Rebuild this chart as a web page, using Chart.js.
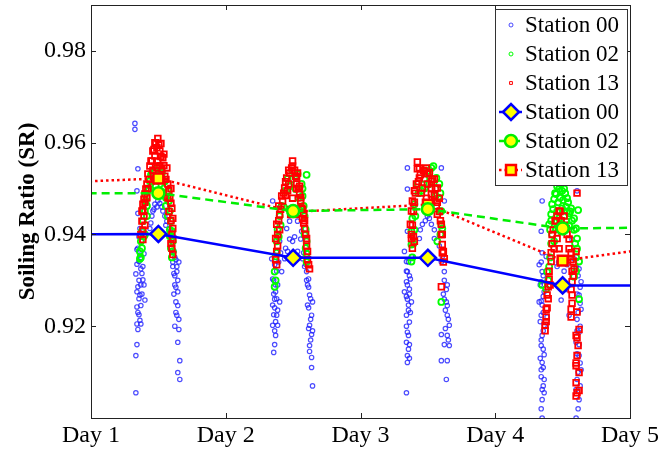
<!DOCTYPE html>
<html>
<head>
<meta charset="utf-8">
<script src="https://cdn.jsdelivr.net/npm/chart.js@4.4.1/dist/chart.umd.min.js"></script>
<style>
  html, body { margin: 0; padding: 0; background: #fff; }
</style>
</head>
<body>
<canvas id="myChart" width="665" height="450"></canvas>
<script>
// x axis: days, y axis: soiling ratio
var xTicks = [1, 2, 3, 4, 5];
var dayLabels = ['Day 1', 'Day 2', 'Day 3', 'Day 4', 'Day 5'];
var yTicks = [0.92, 0.94, 0.96, 0.98];

// daily means (edge values read where the lines leave the box)
var meanDays = [0.5, 1.5, 2.5, 3.5, 4.5, 5.5];
var st00Mean = [0.9400, 0.9401, 0.9349, 0.9349, 0.9289, 0.9289];
var st02Mean = [0.9490, 0.9490, 0.9451, 0.9455, 0.9413, 0.9416];
var st13Mean = [0.9510, 0.9522, 0.9449, 0.9465, 0.9343, 0.9383];

// measurements [day, SR]
var st00Points = [
  // day 1
  [1.326,0.9642],[1.326,0.9629],[1.348,0.9543],[1.341,0.9495],[1.348,0.9446],[1.363,0.9413],[1.356,0.9395],
  [1.378,0.9385],[1.341,0.9367],[1.393,0.9358],[1.370,0.9350],[1.356,0.9341],[1.385,0.9330],[1.370,0.9325],
  [1.333,0.9314],[1.385,0.9301],[1.393,0.9290],[1.348,0.9286],[1.363,0.9268],[1.400,0.9257],[1.341,0.9242],
  [1.363,0.9213],[1.348,0.9193],[1.341,0.9160],[1.333,0.9136],[1.333,0.9055],
  [1.348,0.9370],[1.363,0.9355],[1.341,0.9335],[1.378,0.9315],[1.356,0.9300],[1.370,0.9290],[1.341,0.9275],
  [1.378,0.9270],[1.356,0.9260],[1.370,0.9245],[1.356,0.9225],[1.348,0.9230],[1.370,0.9205],[1.341,0.9205],
  [1.437,0.9413],[1.452,0.9440],[1.459,0.9451],[1.474,0.9466],[1.496,0.9473],[1.511,0.9468],[1.533,0.9451],
  [1.548,0.9440],[1.563,0.9429],[1.467,0.9455],[1.526,0.9460],[1.489,0.9460],[1.444,0.9425],[1.555,0.9420],
  [1.585,0.9413],[1.615,0.9395],[1.600,0.9389],[1.615,0.9363],[1.630,0.9345],[1.652,0.9340],[1.607,0.9330],
  [1.637,0.9319],[1.622,0.9310],[1.622,0.9290],[1.644,0.9275],[1.630,0.9253],[1.637,0.9224],[1.652,0.9193],
  [1.644,0.9165],[1.659,0.9125],[1.644,0.9099],[1.659,0.9084],
  [1.600,0.9365],[1.622,0.9350],[1.607,0.9340],[1.637,0.9330],[1.615,0.9315],[1.644,0.9300],[1.630,0.9285],
  [1.615,0.9270],[1.644,0.9245],[1.630,0.9230],[1.652,0.9215],[1.622,0.9200],
  // day 2
  [2.348,0.9473],[2.341,0.9347],[2.363,0.9334],[2.348,0.9303],[2.385,0.9290],[2.363,0.9259],[2.348,0.9246],
  [2.378,0.9224],[2.348,0.9202],[2.385,0.9202],[2.370,0.9180],[2.363,0.9160],[2.356,0.9143],[2.400,0.9385],
  [2.378,0.9363],[2.415,0.9319],[2.370,0.9275],[2.400,0.9253],
  [2.356,0.9300],[2.370,0.9290],[2.356,0.9270],[2.378,0.9260],[2.363,0.9240],[2.385,0.9235],[2.356,0.9225],
  [2.370,0.9210],[2.363,0.9190],[2.393,0.9340],[2.407,0.9360],[2.378,0.9320],
  [2.437,0.9347],[2.459,0.9363],[2.496,0.9385],[2.533,0.9363],[2.474,0.9429],[2.533,0.9429],[2.452,0.9413],
  [2.563,0.9407],[2.556,0.9390],[2.474,0.9390],[2.511,0.9395],[2.444,0.9370],[2.578,0.9360],
  [2.570,0.9347],[2.600,0.9319],[2.607,0.9290],[2.622,0.9268],[2.607,0.9246],[2.637,0.9224],[2.622,0.9202],
  [2.637,0.9182],[2.622,0.9158],[2.637,0.9132],[2.637,0.9110],[2.644,0.9070],[2.585,0.9330],[2.615,0.9303],
  [2.644,0.9253],[2.600,0.9300],[2.615,0.9285],[2.630,0.9260],[2.615,0.9240],[2.630,0.9215],[2.615,0.9195],
  [2.644,0.9190],[2.630,0.9170],[2.622,0.9145],[2.593,0.9335],
  // day 3
  [3.348,0.9545],[3.600,0.9545],[3.348,0.9499],[3.622,0.9473],[3.348,0.9407],
  [3.326,0.9363],[3.341,0.9341],[3.348,0.9319],[3.341,0.9297],[3.363,0.9281],[3.348,0.9259],[3.356,0.9246],
  [3.341,0.9224],[3.363,0.9209],[3.348,0.9187],[3.363,0.9160],[3.348,0.9136],[3.348,0.9121],[3.341,0.9055],
  [3.378,0.9352],[3.370,0.9303],[3.378,0.9253],[3.326,0.9275],
  [3.356,0.9340],[3.341,0.9320],[3.363,0.9310],[3.348,0.9290],[3.363,0.9270],[3.341,0.9265],[3.356,0.9235],
  [3.370,0.9230],[3.341,0.9200],[3.356,0.9180],[3.341,0.9165],[3.356,0.9150],[3.363,0.9130],
  [3.459,0.9422],[3.526,0.9422],[3.437,0.9391],[3.548,0.9391],[3.496,0.9440],[3.444,0.9410],[3.481,0.9430],
  [3.511,0.9435],[3.548,0.9410],[3.585,0.9375],[3.600,0.9340],
  [3.622,0.9319],[3.644,0.9290],[3.622,0.9259],[3.644,0.9224],[3.659,0.9202],[3.644,0.9180],[3.659,0.9158],
  [3.600,0.9182],[3.600,0.9125],[3.637,0.9084],[3.644,0.9125],[3.607,0.9352],[3.637,0.9253],
  [3.622,0.9300],[3.637,0.9280],[3.615,0.9270],[3.644,0.9245],[3.630,0.9235],[3.652,0.9215],[3.630,0.9195],
  [3.652,0.9170],[3.622,0.9160],
  // day 4
  [4.348,0.9473],[4.570,0.9389],[4.607,0.9495],
  [4.341,0.9407],[4.326,0.9334],[4.348,0.9319],[4.341,0.9297],[4.363,0.9275],[4.348,0.9246],[4.341,0.9224],
  [4.363,0.9202],[4.348,0.9180],[4.341,0.9158],[4.363,0.9138],[4.348,0.9121],[4.341,0.9105],[4.363,0.9084],
  [4.348,0.9062],[4.363,0.9055],[4.348,0.9040],[4.348,0.9000],[4.378,0.9352],[4.326,0.9253],[4.385,0.9220],
  [4.348,0.9360],[4.341,0.9340],[4.356,0.9310],[4.334,0.9290],[4.356,0.9265],[4.341,0.9255],[4.356,0.9230],
  [4.334,0.9210],[4.356,0.9190],[4.341,0.9170],[4.356,0.9150],[4.334,0.9130],[4.356,0.9110],[4.341,0.9090],
  [4.356,0.9070],[4.341,0.9020],
  [4.496,0.9347],[4.459,0.9330],[4.533,0.9334],[4.489,0.9257],[4.548,0.9224],[4.470,0.9340],[4.511,0.9320],
  [4.526,0.9280],
  [4.585,0.9347],[4.622,0.9325],[4.637,0.9297],[4.622,0.9268],[4.637,0.9237],[4.607,0.9215],[4.622,0.9187],
  [4.600,0.9165],[4.622,0.9136],[4.637,0.9105],[4.607,0.9084],[4.600,0.9062],[4.622,0.9040],[4.600,0.9000],
  [4.600,0.9330],[4.615,0.9310],[4.630,0.9285],[4.607,0.9270],[4.630,0.9250],[4.615,0.9230],[4.630,0.9200],
  [4.607,0.9190],[4.622,0.9160],[4.607,0.9140],[4.630,0.9120],[4.615,0.9100],[4.630,0.9070],[4.615,0.9020]
];

var st02Points = [
  // day 1
  [1.496,0.9545],[1.467,0.9534],[1.526,0.9534],[1.437,0.9516],[1.548,0.9516],[1.422,0.9495],[1.570,0.9495],
  [1.407,0.9473],[1.578,0.9473],[1.400,0.9451],[1.585,0.9451],[1.385,0.9429],[1.593,0.9429],[1.378,0.9407],
  [1.600,0.9407],[1.370,0.9385],[1.607,0.9385],[1.363,0.9363],[1.607,0.9363],[1.363,0.9347],[1.452,0.9527],
  [1.511,0.9521],[1.481,0.9505],[1.415,0.9462],[1.555,0.9462],[1.393,0.9396],[1.585,0.9396],
  [1.430,0.9500],[1.445,0.9530],[1.540,0.9500],[1.556,0.9480],[1.415,0.9440],[1.570,0.9440],[1.400,0.9400],
  [1.585,0.9410],[1.378,0.9370],[1.593,0.9370],[1.370,0.9350],[1.600,0.9350],[1.474,0.9540],[1.519,0.9540],
  // day 2
  [2.496,0.9538],[2.533,0.9532],[2.459,0.9521],[2.563,0.9510],[2.437,0.9495],[2.570,0.9484],[2.415,0.9462],
  [2.578,0.9462],[2.400,0.9440],[2.585,0.9440],[2.385,0.9411],[2.593,0.9411],[2.378,0.9385],[2.600,0.9385],
  [2.370,0.9352],[2.600,0.9358],[2.363,0.9319],[2.363,0.9286],[2.474,0.9505],[2.519,0.9499],
  [2.407,0.9420],[2.393,0.9395],[2.378,0.9360],[2.370,0.9300],[2.585,0.9400],[2.593,0.9370],[2.600,0.9340],
  [2.430,0.9460],[2.556,0.9460],[2.452,0.9495],[2.541,0.9480],[2.489,0.9520],[2.600,0.9530],[2.570,0.9500],
  // day 3
  [3.541,0.9549],[3.511,0.9534],[3.563,0.9523],[3.593,0.9490],[3.474,0.9521],[3.422,0.9510],[3.400,0.9466],
  [3.385,0.9435],[3.378,0.9407],[3.378,0.9378],[3.378,0.9341],[3.600,0.9451],[3.607,0.9413],[3.600,0.9253],
  [3.570,0.9385],[3.496,0.9538],[3.452,0.9495],[3.556,0.9484],
  [3.400,0.9410],[3.393,0.9380],[3.385,0.9350],[3.407,0.9440],[3.430,0.9490],[3.578,0.9480],[3.593,0.9450],
  [3.600,0.9420],[3.593,0.9400],[3.474,0.9500],[3.511,0.9510],[3.526,0.9545],[3.585,0.9510],
  // day 4
  [4.452,0.9488],[4.496,0.9495],[4.533,0.9479],[4.422,0.9466],[4.563,0.9457],[4.415,0.9444],[4.585,0.9435],
  [4.400,0.9422],[4.600,0.9413],[4.422,0.9400],[4.607,0.9391],[4.437,0.9385],[4.607,0.9369],[4.622,0.9341],
  [4.622,0.9259],[4.348,0.9290],[4.378,0.9281],[4.496,0.9457],[4.474,0.9435],[4.526,0.9429],[4.452,0.9413],
  [4.615,0.9453],[4.474,0.9499],[4.519,0.9490],[4.437,0.9477],[4.548,0.9446],[4.385,0.9319],[4.585,0.9308],
  [4.459,0.9505],[4.489,0.9510],[4.511,0.9500],[4.444,0.9490],[4.541,0.9470],[4.467,0.9470],[4.504,0.9475],
  [4.430,0.9455],[4.556,0.9450],[4.415,0.9430],[4.570,0.9430],[4.407,0.9410],[4.585,0.9410],[4.415,0.9380],
  [4.593,0.9380],[4.407,0.9350],[4.600,0.9350],[4.400,0.9330],[4.600,0.9320],[4.393,0.9300],[4.459,0.9450],
  [4.533,0.9450],[4.481,0.9480],[4.526,0.9460],[4.474,0.9420],[4.548,0.9420]
];

var st13Points = [
  // day 1
  [1.496,0.9609],[1.474,0.9600],[1.459,0.9582],[1.452,0.9560],[1.533,0.9567],[1.563,0.9545],[1.422,0.9532],
  [1.415,0.9510],[1.570,0.9510],[1.400,0.9488],[1.585,0.9479],[1.385,0.9466],[1.600,0.9457],[1.378,0.9451],
  [1.607,0.9435],[1.607,0.9413],[1.378,0.9429],[1.385,0.9389],[1.607,0.9389],[1.607,0.9356],[1.489,0.9589],
  [1.511,0.9582],[1.496,0.9560],[1.489,0.9545],[1.526,0.9543],[1.437,0.9549],[1.548,0.9527],[1.407,0.9499],
  [1.578,0.9495],[1.393,0.9477],[1.593,0.9468],[1.474,0.9571],[1.519,0.9598],
  [1.400,0.9470],[1.393,0.9440],[1.385,0.9410],[1.400,0.9420],[1.415,0.9480],[1.430,0.9520],[1.445,0.9560],
  [1.467,0.9585],[1.481,0.9600],[1.504,0.9595],[1.519,0.9570],[1.541,0.9550],[1.556,0.9520],[1.570,0.9480],
  [1.578,0.9450],[1.593,0.9430],[1.600,0.9400],[1.593,0.9380],[1.600,0.9370],[1.422,0.9500],[1.385,0.9450],
  [1.370,0.9400],[1.593,0.9500],[1.541,0.9575],[1.459,0.9540],[1.511,0.9550],[1.467,0.9520],[1.526,0.9520],
  // day 2
  [2.496,0.9549],[2.533,0.9534],[2.452,0.9523],[2.526,0.9510],[2.437,0.9501],[2.548,0.9488],[2.422,0.9473],
  [2.563,0.9457],[2.400,0.9444],[2.570,0.9435],[2.378,0.9422],[2.585,0.9413],[2.370,0.9391],[2.600,0.9391],
  [2.378,0.9363],[2.607,0.9363],[2.378,0.9334],[2.615,0.9334],[2.622,0.9325],[2.459,0.9495],[2.496,0.9479],
  [2.474,0.9534],[2.519,0.9527],[2.415,0.9484],[2.556,0.9473],[2.393,0.9462],[2.578,0.9446],
  [2.385,0.9400],[2.393,0.9430],[2.407,0.9455],[2.430,0.9490],[2.444,0.9515],[2.467,0.9540],[2.489,0.9545],
  [2.511,0.9540],[2.526,0.9525],[2.541,0.9500],[2.556,0.9480],[2.570,0.9455],[2.578,0.9425],[2.593,0.9400],
  [2.600,0.9375],[2.607,0.9345],[2.385,0.9375],[2.370,0.9345],[2.400,0.9410],[2.585,0.9430],[2.444,0.9485],
  [2.548,0.9505],[2.467,0.9510],[2.526,0.9500],[2.496,0.9560],
  // day 3
  [3.422,0.9558],[3.422,0.9543],[3.437,0.9523],[3.496,0.9532],[3.526,0.9516],[3.400,0.9495],[3.570,0.9501],
  [3.385,0.9473],[3.585,0.9479],[3.378,0.9451],[3.570,0.9444],[3.370,0.9422],[3.600,0.9422],[3.378,0.9391],
  [3.607,0.9400],[3.607,0.9378],[3.615,0.9363],[3.622,0.9347],[3.600,0.9286],[3.459,0.9501],[3.489,0.9479],
  [3.526,0.9488],[3.400,0.9385],[3.474,0.9538],[3.548,0.9521],[3.415,0.9510],[3.563,0.9462],
  [3.393,0.9450],[3.400,0.9470],[3.407,0.9490],[3.430,0.9515],[3.444,0.9530],[3.467,0.9540],[3.489,0.9545],
  [3.511,0.9535],[3.533,0.9520],[3.556,0.9500],[3.570,0.9470],[3.585,0.9450],[3.593,0.9430],[3.600,0.9400],
  [3.607,0.9360],[3.615,0.9340],[3.385,0.9420],[3.378,0.9400],[3.393,0.9395],[3.385,0.9370],[3.452,0.9490],
  [3.526,0.9500],[3.437,0.9545],[3.496,0.9510],[3.548,0.9485],
  // day 4
  [4.607,0.9490],[4.474,0.9451],[4.496,0.9407],[4.526,0.9413],[4.422,0.9400],[4.437,0.9369],[4.600,0.9363],
  [4.415,0.9341],[4.585,0.9325],[4.400,0.9303],[4.570,0.9297],[4.385,0.9268],[4.570,0.9268],[4.378,0.9237],
  [4.563,0.9237],[4.370,0.9202],[4.607,0.9231],[4.622,0.9193],[4.615,0.9158],[4.607,0.9136],[4.600,0.9114],
  [4.622,0.9099],[4.600,0.9077],[4.607,0.9055],[4.600,0.9048],[4.474,0.9369],[4.548,0.9369],[4.452,0.9429],
  [4.511,0.9440],[4.459,0.9391],[4.563,0.9345],[4.393,0.9286],[4.378,0.9220],
  [4.415,0.9360],[4.422,0.9380],[4.430,0.9410],[4.444,0.9430],[4.459,0.9440],[4.481,0.9450],[4.489,0.9430],
  [4.511,0.9420],[4.533,0.9400],[4.548,0.9390],[4.563,0.9360],[4.578,0.9340],[4.570,0.9320],[4.400,0.9320],
  [4.407,0.9290],[4.393,0.9260],[4.385,0.9240],[4.378,0.9210],[4.370,0.9190],[4.578,0.9310],[4.563,0.9280],
  [4.570,0.9250],[4.563,0.9220],[4.600,0.9180],[4.607,0.9175],[4.600,0.9120],[4.622,0.9060]
];

Chart.defaults.font.family = "'Liberation Serif', 'Times New Roman', serif";
Chart.defaults.color = '#000';

function toXY(arr) {
  return arr.map(function (p) { return {x: p[0], y: p[1]}; });
}
function meanXY(vals) {
  return meanDays.map(function (d, i) { return {x: d, y: vals[i]}; });
}

// box round the plot with inward ticks, like matlab
var framePlugin = {
  id: 'frame',
  afterDatasetsDraw: function (chart) {
    var ctx = chart.ctx, a = chart.chartArea;
    var xs = chart.scales.x, ys = chart.scales.y;
    ctx.save();
    ctx.strokeStyle = '#222';
    ctx.lineWidth = 1;
    ctx.strokeRect(a.left + 0.5, a.top + 0.5, a.right - a.left, a.bottom - a.top);
    ctx.beginPath();
    xTicks.forEach(function (v) {
      var px = Math.round(xs.getPixelForValue(v)) + 0.5;
      ctx.moveTo(px, a.bottom); ctx.lineTo(px, a.bottom - 5);
      ctx.moveTo(px, a.top); ctx.lineTo(px, a.top + 5);
    });
    yTicks.forEach(function (v) {
      var py = Math.round(ys.getPixelForValue(v)) + 0.5;
      ctx.moveTo(a.left, py); ctx.lineTo(a.left + 5, py);
      ctx.moveTo(a.right, py); ctx.lineTo(a.right - 5, py);
    });
    ctx.stroke();
    ctx.restore();
  }
};

// legend box inside the plot, top right
var legendPlugin = {
  id: 'boxLegend',
  afterDraw: function (chart) {
    var ctx = chart.ctx, a = chart.chartArea;
    var right = a.right - 3, left = right - 132, top = a.top + 4, h = 176;
    ctx.save();
    ctx.fillStyle = '#fff';
    ctx.fillRect(left, top, right - left, h);
    ctx.strokeStyle = '#333';
    ctx.lineWidth = 1;
    ctx.strokeRect(left + 0.5, top + 0.5, right - left, h);
    chart.data.datasets.forEach(function (ds, i) {
      var y = top + 16 + i * 29;
      var mx = left + 16;
      var r = ds.showLine ? ds.pointRadius : 2;
      if (ds.showLine) {
        ctx.save();
        ctx.strokeStyle = ds.borderColor;
        ctx.lineWidth = ds.borderWidth;
        ctx.setLineDash(ds.borderDash || []);
        ctx.beginPath();
        ctx.moveTo(left + 4, y); ctx.lineTo(left + 27, y);
        ctx.stroke();
        ctx.restore();
      }
      ctx.save();
      ctx.strokeStyle = ds.pointBorderColor;
      ctx.fillStyle = ds.pointBackgroundColor;
      ctx.lineWidth = ds.showLine ? ds.pointBorderWidth : 1;
      Chart.helpers.drawPoint(ctx, {pointStyle: ds.pointStyle, radius: r, rotation: 0, borderWidth: ctx.lineWidth}, mx, y);
      ctx.restore();
      ctx.fillStyle = '#000';
      ctx.font = "23px 'Liberation Serif'";
      ctx.textBaseline = 'middle';
      ctx.fillText(ds.label, left + 30, y + 1);
    });
    ctx.restore();
  }
};

new Chart(document.getElementById('myChart').getContext('2d'), {
  type: 'scatter',
  data: {
    datasets: [
      {
        label: 'Station 00', data: toXY(st00Points), showLine: false, order: 3,
        pointStyle: 'circle', pointRadius: 2.2, pointBorderWidth: 1.2,
        pointBorderColor: 'rgba(30,30,255,0.8)', pointBackgroundColor: 'rgba(0,0,0,0)'
      },
      {
        label: 'Station 02', data: toXY(st02Points), showLine: false, order: 2,
        pointStyle: 'circle', pointRadius: 3, pointBorderWidth: 1.8,
        pointBorderColor: '#00ff00', pointBackgroundColor: 'rgba(0,0,0,0)'
      },
      {
        label: 'Station 13', data: toXY(st13Points), showLine: false, order: 1,
        pointStyle: 'rect', pointRadius: 4, pointBorderWidth: 1.8,
        pointBorderColor: '#ff0000', pointBackgroundColor: 'rgba(0,0,0,0)'
      },
      {
        label: 'Station 00', data: meanXY(st00Mean), showLine: true, order: 0,
        borderColor: '#0000ff', borderWidth: 2.5,
        pointStyle: 'rectRot', pointRadius: 8, pointBorderWidth: 2.5,
        pointBorderColor: '#0000ff', pointBackgroundColor: '#ffff00'
      },
      {
        label: 'Station 02', data: meanXY(st02Mean), showLine: true, order: 0,
        borderColor: '#00ee00', borderWidth: 2.5, borderDash: [8, 5],
        pointStyle: 'circle', pointRadius: 6, pointBorderWidth: 2.5,
        pointBorderColor: '#00ee00', pointBackgroundColor: '#ffff00'
      },
      {
        label: 'Station 13', data: meanXY(st13Mean), showLine: true, order: 0,
        borderColor: '#ff0000', borderWidth: 2.5, borderDash: [2.5, 3],
        pointStyle: 'rect', pointRadius: 7, pointBorderWidth: 2.5,
        pointBorderColor: '#ff0000', pointBackgroundColor: '#ffff00'
      }
    ]
  },
  options: {
    responsive: false,
    animation: false,
    layout: { autoPadding: false, padding: { top: 5, right: 35, left: 0, bottom: 0 } },
    plugins: { legend: { display: false }, tooltip: { enabled: false } },
    scales: {
      x: {
        type: 'linear', min: 1, max: 5,
        afterBuildTicks: function (s) { s.ticks = xTicks.map(function (v) { return {value: v}; }); },
        afterFit: function (s) { s.height = 32; },
        ticks: {
          callback: function (v, i) { return dayLabels[i]; },
          font: { size: 24 }, padding: 3, maxRotation: 0, autoSkip: false
        },
        grid: { display: false, drawTicks: false },
        border: { display: false }
      },
      y: {
        min: 0.90, max: 0.99,
        afterBuildTicks: function (s) { s.ticks = yTicks.map(function (v) { return {value: v}; }); },
        afterFit: function (s) { s.width = 91; s.paddingTop = 0; s.paddingBottom = 0; },
        ticks: {
          callback: function (v) { return v.toFixed(2); },
          font: { size: 24 }, padding: 5
        },
        grid: { display: false, drawTicks: false },
        border: { display: false },
        title: {
          display: true, text: 'Soiling Ratio (SR)',
          font: { size: 23, weight: 'bold' }, padding: { top: 14, bottom: 0 }
        }
      }
    }
  },
  plugins: [framePlugin, legendPlugin]
});
</script>
</body>
</html>
